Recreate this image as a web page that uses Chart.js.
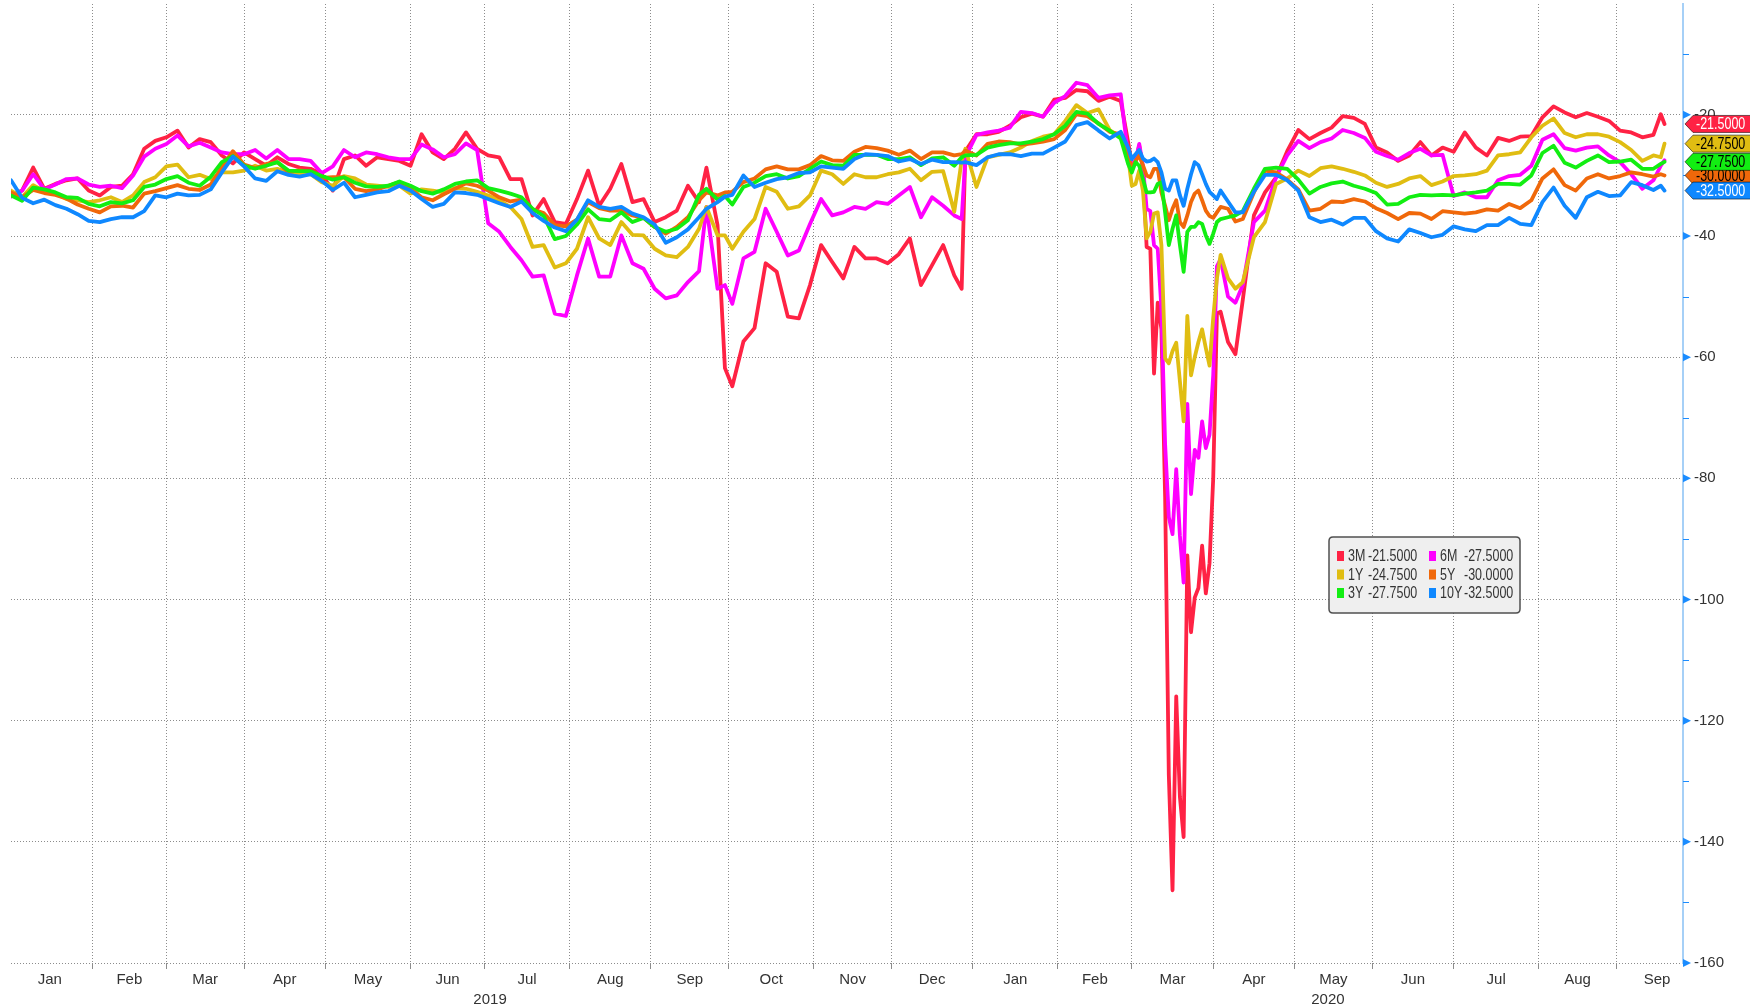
<!DOCTYPE html>
<html>
<head>
<meta charset="utf-8">
<title>Basis curve</title>
<script src="https://cdn.jsdelivr.net/npm/chart.js@4.4.1/dist/chart.umd.min.js"></script>
<style>
  html, body { margin: 0; padding: 0; background: #fff; }
  .chart-box { width: 1750px; height: 1007px; }
</style>
</head>
<body>
<div class="chart-box"><canvas class="js-chart"></canvas></div>
<script>
const ctx = document.querySelector(".js-chart").getContext("2d");
const FONT = '"Liberation Sans", "DejaVu Sans", sans-serif';
const GRID = "#8c8c8c";

// business-day index, 0 = 1 Jan 2019
const days = [
  1, 4, 7, 10, 13, 16, 19, 22, 25, 28,
  31, 34, 37, 40, 43, 46, 49, 52, 55, 58,
  61, 64, 67, 70, 73, 76, 79, 82, 85, 88,
  91, 94, 97, 100, 103, 106, 109, 112, 115, 118,
  121, 124, 127, 130, 133, 136, 139, 142, 145, 148,
  151, 154, 157, 160, 163, 166, 169, 172, 175, 178,
  181, 184, 187, 189, 192, 194, 196, 199, 202, 205,
  208, 211, 214, 217, 220, 223, 226, 229, 232, 235,
  238, 241, 244, 247, 250, 253, 256, 258, 259, 262,
  265, 268, 271, 274, 277, 280, 283, 286, 289, 292,
  295, 298, 301, 303, 304, 305, 306, 307, 308, 309,
  310, 311, 312, 313, 314, 315, 316, 317, 318, 319,
  320, 321, 322, 323, 324, 325, 326, 327, 328, 330,
  332, 334, 337, 340, 343, 346, 349, 352, 355, 358,
  361, 364, 367, 370, 373, 376, 379, 382, 385, 388,
  391, 394, 397, 400, 403, 406, 409, 412, 415, 418,
  421, 424, 427, 430, 433, 436, 439, 442, 445, 447,
  448,
];

const basis3M = [
  -33.3, -32.5, -28.7, -32.2, -31.4, -30.8, -30.5, -32.5, -33.3, -31.9,
  -31.7, -29.8, -25.6, -24.3, -23.7, -22.6, -25.4, -24, -24.5, -26.7,
  -28, -26.2, -27.3, -28.4, -27, -28.1, -28.7, -28.9, -29.8, -32.5,
  -27.3, -26.7, -28.4, -27, -27.3, -27.6, -28.4, -23.2, -26.2, -27.3,
  -25.6, -22.9, -25.6, -26.7, -27, -30.6, -30.6, -36.6, -33.9, -37.7,
  -38, -33.9, -29.2, -35, -32.2, -28.1, -34.4, -33.9, -37.7, -36.9,
  -35.8, -31.7, -34.4, -28.7, -38.2, -61.8, -64.8, -57.4, -55.2, -44.5,
  -45.9, -53.3, -53.6, -48.1, -41.5, -44.3, -47, -41.8, -43.7, -43.7,
  -44.5, -43, -40.4, -48.1, -44.8, -41.5, -46.5, -48.7, -26, -23.2,
  -23.2, -22.8, -21.8, -20.4, -19.8, -20.3, -17.5, -17.2, -15.9, -16.1,
  -17.7, -17, -17.7, -24.5, -28.1, -27.8, -25.1, -28.9, -41.8, -42.1,
  -62.7, -51, -55.4, -83, -129, -148, -116, -132.6, -139.2, -92.7,
  -105.4, -99.7, -98.1, -91.1, -99, -94, -80, -52.8, -52.5, -57.5,
  -59.5, -50.5, -36.6, -32.8, -30.3, -26, -22.5, -24, -23, -22.1,
  -20.2, -20.5, -21.5, -25.4, -26.2, -27.6, -26.7, -24.5, -26.7, -25.4,
  -26.1, -22.9, -25.4, -26.7, -23.8, -24.3, -23.6, -23.5, -20.4, -18.6,
  -19.6, -20.4, -19.7, -20.3, -21, -22.6, -22.9, -23.7, -23.3, -19.9,
  -21.5,
];

const basis6M = [
  -33.5, -32.5, -29.8, -32.3, -31.5, -30.6, -30.5, -31.5, -31.9, -31.7,
  -32.1, -30, -26.9, -25.6, -24.8, -23.4, -25.2, -24.6, -25.4, -26.2,
  -26.5, -26.5, -25.8, -27.2, -25.8, -27.3, -27.3, -27.6, -29.6, -28.5,
  -25.8, -27, -26.2, -26.5, -27, -27.3, -27.3, -24.9, -25.7, -27,
  -26.5, -24.7, -25.8, -37.9, -39.3, -41.8, -44, -46.7, -46.5, -52.8,
  -53.2, -46.5, -40.4, -46.7, -46.7, -39.9, -44.5, -45.4, -48.7, -50.3,
  -49.8, -47.6, -45.8, -35.2, -48.7, -48.1, -51.2, -43.7, -42.6, -35.5,
  -39.3, -43.2, -42.4, -38, -33.9, -36.6, -36.1, -35.2, -35.5, -34.4,
  -34.7, -33.3, -31.9, -36.9, -33.6, -35, -36.6, -37.2, -27, -23.3,
  -22.9, -22.6, -22.1, -19.5, -19.7, -20.3, -18, -16.9, -14.7, -15.1,
  -17.2, -16.8, -16.6, -26.7, -28.1, -27.6, -24.8, -28.4, -35.5, -35.9,
  -41.5, -42.1, -52, -74.4, -86.4, -89.2, -78.5, -89.5, -97.2, -67.7,
  -82.6, -75.3, -76.6, -70.6, -75, -72.8, -63, -45, -43.8, -50,
  -51, -48.1, -37.7, -35.8, -30.3, -26.7, -24.3, -25.5, -24.5, -23.9,
  -22.5, -23, -23.8, -26.1, -26.8, -27.4, -26.3, -25.6, -26.7, -26.6,
  -33.4, -32.8, -33.6, -33.6, -30.8, -30.1, -29.9, -28.4, -24.1, -23.2,
  -25.5, -25.9, -25.4, -25.2, -26.7, -27.8, -29.8, -32.2, -30.8, -28.4,
  -27.5,
];

const basis1Y = [
  -32.5, -33.6, -31.6, -32.6, -33, -33.9, -34.1, -34.4, -34.1, -33.6,
  -34.4, -33.3, -31.1, -30.3, -28.5, -28.2, -30.3, -29.9, -30.6, -29.5,
  -29.5, -29.2, -28.4, -29.2, -28.9, -29.6, -29.8, -29.8, -31.1, -31.7,
  -30.1, -30.5, -31.5, -31.7, -31.9, -31.7, -33, -32.3, -32.5, -32.8,
  -32.1, -32.2, -32.7, -33.3, -34.1, -35.2, -37.2, -41.8, -41.5, -45.2,
  -44.5, -42.1, -36.9, -40.4, -41.5, -37.7, -39.8, -39.9, -42.1, -43.2,
  -43.5, -41.8, -38.8, -35.2, -39.9, -39.9, -42.1, -39.3, -37.2, -31.9,
  -32.7, -35.5, -35.1, -33.3, -29.2, -29.8, -31.4, -29.8, -30.3, -30.3,
  -29.8, -29.5, -28.9, -30.8, -29.4, -29.3, -36, -27.5, -25.6, -31.9,
  -27, -26.6, -26.2, -25.4, -24.3, -23.6, -23.2, -21, -18.4, -19.7,
  -19.1, -22.5, -23.7, -27, -31.7, -31.4, -29.2, -32.5, -40.4, -39.3,
  -36.3, -36.1, -41.5, -60.2, -61, -59, -57.6, -64, -70.6, -53.2,
  -63, -60, -57.5, -55.4, -58.5, -61.4, -53.5, -47, -43.1, -47,
  -48.7, -47.6, -40.2, -37.7, -31.4, -30.5, -29.2, -30.1, -28.8, -28.5,
  -28.9, -29.4, -30, -31.2, -31.9, -31.4, -30.5, -30.1, -31.6, -31,
  -30.1, -30, -29.8, -29.2, -26.7, -26.5, -26.2, -23.7, -21.8, -20.6,
  -23, -23.7, -23.2, -23.2, -23.6, -24.5, -25.8, -27.6, -26.7, -27,
  -24.75,
];

const basis5Y = [
  -32.8, -33.6, -32.4, -32.9, -33.2, -33.8, -34.8, -35.5, -36.1, -35.1,
  -35, -35.3, -33, -32.6, -32.1, -31.6, -32.2, -32.4, -31.5, -28.6,
  -26, -28.2, -28.8, -28.1, -27.8, -29.5, -29.1, -29.5, -30.4, -30.3,
  -30.3, -32.2, -32.6, -32.3, -31.7, -31.1, -32.2, -33.6, -34.1, -33.1,
  -32.2, -31.3, -31.7, -32.5, -33.6, -34.3, -34, -35.6, -36.2, -38.2,
  -38.4, -37.3, -34.4, -35.4, -35.8, -35.8, -36.6, -37, -38.5, -39.6,
  -38.5, -36.9, -34.1, -32.8, -33.3, -32.8, -32.7, -31.1, -30.5, -29,
  -28.5, -29, -29, -28.3, -26.8, -27.5, -27.6, -26.1, -25.3, -25.5,
  -25.9, -26.6, -25.9, -27.3, -26.2, -26.2, -26.7, -26.5, -25.9, -26.7,
  -24.8, -24.4, -24.5, -24.9, -24.7, -24.4, -24, -22.5, -19.9, -20.2,
  -21.4, -22.8, -23.2, -26.7, -28.8, -27.6, -26.7, -28.3, -30, -30.3,
  -28.9, -28.9, -32.8, -35, -37.4, -35.5, -34.1, -37.7, -38.5, -36.6,
  -34.4, -33, -32.5, -34.1, -35.8, -36.7, -37, -36.1, -35.2, -35.5,
  -37.6, -37.2, -32.8, -29.2, -29.5, -30.7, -32.3, -35.8, -35.5, -34.3,
  -34.4, -33.9, -34.3, -35.4, -36.2, -37.2, -36.2, -36.3, -37.2, -35.9,
  -36.1, -36.3, -36.1, -35.6, -35.8, -34.7, -35.4, -34.1, -30.5, -29,
  -31.6, -32.5, -30.5, -29.8, -30.5, -30.1, -29.5, -29.8, -30.2, -29.8,
  -30,
];

const basis3Y = [
  -33.3, -34.2, -32, -32.3, -32.8, -33.6, -33.7, -34.7, -35.1, -34.4,
  -34.6, -34.1, -31.9, -31.5, -30.6, -30.1, -31.2, -31.7, -30.2, -27.8,
  -26.8, -28.4, -28.9, -28.4, -27.8, -29.2, -29.3, -29.3, -30.1, -30.7,
  -30.3, -31.2, -31.8, -31.9, -31.7, -31, -31.7, -32.6, -33, -32.3,
  -31.4, -31, -30.8, -32.1, -32.5, -33, -33.6, -35.5, -36.7, -40.5,
  -40, -38.1, -35.6, -37.2, -37.4, -36.1, -37.7, -37, -38.5, -39.3,
  -38.8, -37.4, -33.2, -32.2, -34, -33.4, -34.8, -31.9, -31.2, -30.1,
  -29.8, -30.5, -30.1, -28.9, -27.7, -28.3, -28.4, -26.6, -26.6, -26.6,
  -27.3, -27.3, -27, -28.3, -27.2, -27, -28.4, -27, -26.7, -26.6,
  -25.4, -25, -24.7, -24.7, -24.4, -24, -23.2, -21.8, -19.5, -19.8,
  -21.5, -22.6, -23.9, -28.1, -29.5, -27.8, -28.4, -30.6, -32.8, -32.8,
  -32.7, -31.4, -31.1, -36.1, -41.5, -38.8, -36.6, -41.5, -45.9, -39.3,
  -38.5, -38.5, -37.7, -38, -39.9, -41.3, -39.6, -37.7, -37.2, -36.9,
  -36.6, -35.9, -32.2, -28.9, -28.7, -28.9, -30.7, -33, -31.9, -31.3,
  -31, -31.7, -32.2, -32.9, -34.8, -34.7, -33.6, -33.2, -33.3, -33.2,
  -33.3, -33, -32.8, -32.5, -31.4, -31.4, -31.5, -30, -26.3, -25.1,
  -27.9, -28.7, -27.6, -26.7, -27.8, -27.7, -27.4, -28.9, -28.9, -28.1,
  -27.75,
];

const basis10Y = [
  -30.8, -33.7, -34.6, -34, -34.9, -35.5, -36.4, -37.5, -37.7, -37.2,
  -36.9, -36.9, -35.9, -33.3, -33.6, -33, -33.3, -33.2, -32.3, -29.5,
  -26.9, -28.5, -30.5, -30.9, -29.3, -29.9, -30.2, -29.8, -30.9, -32.4,
  -31.2, -33.6, -33.2, -32.8, -32.6, -31.7, -32.5, -33.9, -35.2, -34.7,
  -32.8, -32.9, -33.2, -33.9, -34.6, -35.2, -34.3, -36.2, -37.5, -38.6,
  -39.2, -37.3, -34.1, -35.2, -35.5, -35.2, -36.3, -36.9, -38.1, -41.1,
  -40.2, -38.9, -36.9, -35.5, -34.4, -33.5, -33.2, -30, -31.9, -31.2,
  -30.6, -30.3, -29.6, -29.5, -28.5, -28.7, -28.9, -27.3, -26.5, -26.6,
  -26.8, -27.7, -27.3, -28.1, -27.4, -27.8, -27.8, -27.9, -27.8, -28.3,
  -27, -26.5, -26.5, -26.8, -26.4, -26.4, -25.4, -24.4, -21.7, -21.2,
  -22.6, -23.9, -22.8, -25.4, -27.3, -26.5, -25.8, -27.2, -27.7, -27.6,
  -27.2, -27.8, -29.5, -32.2, -32.5, -30.8, -30.8, -33.3, -35, -32.2,
  -29.8, -27.8, -28.3, -29.8, -31.4, -32.7, -33.3, -33.9, -32.5, -34.3,
  -36.1, -36.1, -32.7, -29.9, -29.9, -30.8, -32.5, -36.9, -37.7, -37.3,
  -38.1, -37, -37, -39.2, -40.4, -40.9, -38.9, -39.5, -40.2, -39.8,
  -38.4, -38.9, -39.2, -38.2, -38.2, -37, -38, -38.2, -34.4, -32,
  -35, -37, -33.6, -32.7, -33.4, -33.3, -31.1, -31.6, -32.4, -31.7,
  -32.5,
];

const seriesLabels = ["3M", "6M", "1Y", "5Y", "3Y", "10Y"];
const seriesValues = [basis3M, basis6M, basis1Y, basis5Y, basis3Y, basis10Y];

// axis ticks (business-day index)
const monthStarts = [23, 43, 64, 86, 109, 129, 152, 174, 195, 218, 239, 261,
  284, 304, 326, 348, 369, 391, 414, 435];
const monthCentres = [11.5, 33, 53.5, 75, 97.5, 119, 140.5, 163, 184.5, 206.5, 228.5, 250,
  272.5, 294, 315, 337, 358.5, 380, 402.5, 424.5, 446];
const monthLabels = ["Jan", "Feb", "Mar", "Apr", "May", "Jun", "Jul", "Aug", "Sep", "Oct", "Nov", "Dec",
  "Jan", "Feb", "Mar", "Apr", "May", "Jun", "Jul", "Aug", "Sep"];
const yearCentres = [130.5, 357];
const yearLabels = ["2019", "2020"];
const yTicks = [-20, -40, -60, -80, -100, -120, -140, -160];
const yMinorTicks = [-10, -30, -50, -70, -90, -110, -130, -150];

const seriesColours = ["#ff2244", "#ff00ff", "#e0bd12", "#f0680a", "#12ee12", "#0f88ff"];
const tagTextColours = ["#ffffff", null, "#000000", "#000000", "#000000", "#ffffff"];

const X_MIN = 1;
const X_MAX = 453;

function fmt(v) {
  return v.toFixed(4);
}

// narrow text: regular face squeezed horizontally
function narrowText(c, text, x, y, squeeze) {
  c.save();
  c.translate(x, y);
  c.scale(squeeze, 1);
  c.fillText(text, 0, 0);
  c.restore();
}

const rightAxisMarks = {
  id: "rightAxisMarks",
  afterDraw(chart) {
    const { ctx, scales: { y } } = chart;
    const x0 = y.left;
    ctx.save();
    ctx.fillStyle = "#1a8cff";
    yTicks.forEach((v) => {
      const py = y.getPixelForValue(v);
      ctx.beginPath();
      ctx.moveTo(x0, py - 4);
      ctx.lineTo(x0 + 8, py);
      ctx.lineTo(x0, py + 4);
      ctx.closePath();
      ctx.fill();
    });
    ctx.strokeStyle = "#1a8cff";
    ctx.lineWidth = 1;
    yMinorTicks.forEach((v) => {
      const py = Math.round(y.getPixelForValue(v)) + 0.5;
      ctx.beginPath();
      ctx.moveTo(x0, py);
      ctx.lineTo(x0 + 6, py);
      ctx.stroke();
    });
    ctx.restore();
  },
};

const valueTags = {
  id: "valueTags",
  afterDraw(chart) {
    const { ctx, scales: { y } } = chart;
    const tip = y.left + 2;
    const body = tip + 8;
    const end = chart.width + 2;
    const h = 17;
    ctx.save();
    ctx.font = "16px " + FONT;
    ctx.textBaseline = "middle";
    ctx.textAlign = "left";
    chart.data.datasets.forEach((ds, i) => {
      if (!tagTextColours[i]) return;
      const last = ds.data[ds.data.length - 1].y;
      const py = y.getPixelForValue(last);
      ctx.beginPath();
      ctx.moveTo(tip, py);
      ctx.lineTo(body, py - h / 2);
      ctx.lineTo(end, py - h / 2);
      ctx.lineTo(end, py + h / 2);
      ctx.lineTo(body, py + h / 2);
      ctx.closePath();
      ctx.fillStyle = ds.borderColor;
      ctx.fill();
      ctx.strokeStyle = "rgba(0,0,0,0.55)";
      ctx.lineWidth = 1;
      ctx.stroke();
      ctx.fillStyle = tagTextColours[i];
      narrowText(ctx, fmt(last), body + 3, py + 1, 0.78);
    });
    ctx.restore();
  },
};

const legendBox = {
  id: "legendBox",
  afterDraw(chart) {
    const { ctx } = chart;
    const left = 1329, top = 537, w = 191, h = 76, r = 4;
    const sets = chart.data.datasets;
    ctx.save();
    ctx.beginPath();
    ctx.moveTo(left + r, top);
    ctx.lineTo(left + w - r, top);
    ctx.quadraticCurveTo(left + w, top, left + w, top + r);
    ctx.lineTo(left + w, top + h - r);
    ctx.quadraticCurveTo(left + w, top + h, left + w - r, top + h);
    ctx.lineTo(left + r, top + h);
    ctx.quadraticCurveTo(left, top + h, left, top + h - r);
    ctx.lineTo(left, top + r);
    ctx.quadraticCurveTo(left, top, left + r, top);
    ctx.closePath();
    ctx.fillStyle = "#efefef";
    ctx.fill();
    ctx.strokeStyle = "#505050";
    ctx.lineWidth = 1.5;
    ctx.stroke();

    ctx.font = "16px " + FONT;
    ctx.textBaseline = "middle";
    ctx.textAlign = "left";
    const rows = [[0, 1], [2, 3], [4, 5]];
    rows.forEach((pair, row) => {
      const cy = top + 19 + row * 18.5;
      pair.forEach((i, col) => {
        const ds = sets[i];
        const x = left + 8 + col * 92;
        ctx.fillStyle = ds.borderColor;
        ctx.fillRect(x, cy - 5, 7, 10);
        ctx.fillStyle = "#333";
        narrowText(ctx, ds.label, x + 11, cy + 1, 0.78);
        narrowText(ctx, fmt(ds.data[ds.data.length - 1].y), x + (col === 0 ? 31 : 35), cy + 1, 0.78);
      });
    });
    ctx.restore();
  },
};

function buildDatasets() {
  return seriesLabels.map((label, i) => ({
    label,
    data: days.map((d, k) => ({ x: d, y: seriesValues[i][k] })),
    borderColor: seriesColours[i],
    backgroundColor: seriesColours[i],
    borderWidth: 3.8,
    pointRadius: 0,
    tension: 0,
    borderJoinStyle: "round",
    borderCapStyle: "round",
    order: seriesLabels.length - 1 - i,
  }));
}

new Chart(ctx, {
  type: "line",
  data: { datasets: buildDatasets() },
  options: {
    responsive: true,
    maintainAspectRatio: false,
    animation: false,
    layout: { padding: { left: 11, top: 4, right: 0, bottom: 0 } },
    plugins: {
      legend: { display: false },
      tooltip: { enabled: false },
    },
    scales: {
      x: {
        type: "linear",
        position: "bottom",
        weight: 0,
        min: X_MIN,
        max: X_MAX,
        afterBuildTicks(scale) {
          scale.ticks = monthStarts.map((v) => ({ value: v }));
        },
        afterFit(scale) {
          scale.height = 0;
          scale.paddingLeft = 0;
          scale.paddingRight = 0;
        },
        ticks: { display: false },
        grid: { color: GRID, lineWidth: 1, drawTicks: true, tickLength: 6 },
        border: { display: false, dash: [1, 2] },
      },
      xm: {
        type: "linear",
        position: "bottom",
        weight: 1,
        min: X_MIN,
        max: X_MAX,
        afterBuildTicks(scale) {
          scale.ticks = monthCentres.map((v) => ({ value: v }));
        },
        afterFit(scale) {
          scale.height = 26;
          scale.paddingLeft = 0;
          scale.paddingRight = 0;
        },
        ticks: {
          autoSkip: false,
          maxRotation: 0,
          padding: 8,
          color: "#333",
          font: { family: FONT, size: 15 },
          callback(value, index) {
            return monthLabels[index];
          },
        },
        grid: { display: false, drawTicks: false },
        border: { display: false },
      },
      xy: {
        type: "linear",
        position: "bottom",
        weight: 2,
        min: X_MIN,
        max: X_MAX,
        afterBuildTicks(scale) {
          scale.ticks = yearCentres.map((v) => ({ value: v }));
        },
        afterFit(scale) {
          scale.height = 18;
          scale.paddingLeft = 0;
          scale.paddingRight = 0;
        },
        ticks: {
          autoSkip: false,
          maxRotation: 0,
          padding: 2,
          color: "#333",
          font: { family: FONT, size: 15 },
          callback(value, index) {
            return yearLabels[index];
          },
        },
        grid: { display: false, drawTicks: false },
        border: { display: false },
      },
      y: {
        type: "linear",
        position: "right",
        min: -160,
        max: -1.7,
        afterBuildTicks(scale) {
          scale.ticks = yTicks.map((v) => ({ value: v }));
        },
        afterFit(scale) {
          scale.width = 67;
          scale.paddingTop = 0;
          scale.paddingBottom = 0;
        },
        ticks: {
          padding: 11,
          color: "#333",
          font: { family: FONT, size: 15 },
          callback(value) {
            return String(value);
          },
        },
        grid: { color: GRID, lineWidth: 1, drawTicks: false },
        border: { display: true, color: "#a6d0f7", width: 2, dash: [1, 2] },
      },
    },
  },
  plugins: [rightAxisMarks, valueTags, legendBox],
});
</script>
</body>
</html>
